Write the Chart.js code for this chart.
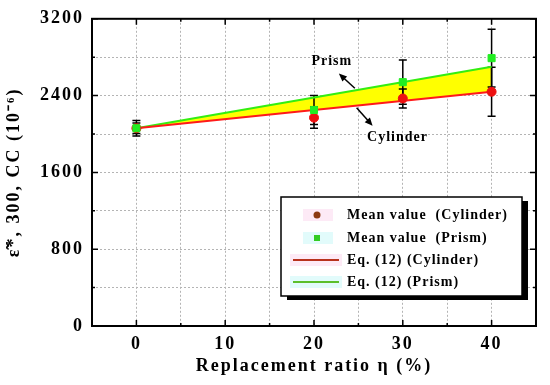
<!DOCTYPE html>
<html>
<head>
<meta charset="utf-8">
<script src="https://cdn.jsdelivr.net/npm/chart.js@4.4.1/dist/chart.umd.min.js"></script>
<style>
  html, body { margin: 0; padding: 0; background: #fff; }
  #wrap { width: 550px; height: 385px; }
</style>
</head>
<body>
<div id="wrap"><canvas id="strainChart" width="550" height="385"></canvas></div>
<script>
// values
const ratios = [0, 20, 30, 40];
const cylinderMean = [2060, 2170, 2370, 2440];
const cylinderErr = [80, 110, 100, 255];
const prismMean = [2060, 2250, 2540, 2790];
const prismErr = [55, 150, 230, 300];
const eqRatios = [0, 40];
const eqCylinder = [2060, 2440];
const eqPrism = [2060, 2700];
const xTicks = [0, 10, 20, 30, 40];
const yTicks = [0, 800, 1600, 2400, 3200];
const legendLabels = ["Mean value  (Cylinder)", "Mean value  (Prism)", "Eq. (12) (Cylinder)", "Eq. (12) (Prism)"];

const serif = "'Liberation Serif', 'Times New Roman', serif";
Chart.defaults.font.family = serif;
Chart.defaults.font.weight = "bold";
Chart.defaults.color = "#000";

const toPoints = (xs, ys) => xs.map((v, i) => ({ x: v, y: ys[i] }));

// the original figure uses widely spaced lettering
const spacing = {
  id: "spacing",
  beforeDraw(chart) { chart.ctx.letterSpacing = "2px"; }
};

// error bars, drawn over the yellow band but under lines and markers
const errorBars = {
  id: "errorBars",
  beforeDatasetsDraw(chart) {
    const { ctx, scales: { x, y } } = chart;
    ctx.save();
    ctx.strokeStyle = "#000";
    ctx.lineWidth = 1.5;
    const draw = (means, errs) => {
      ratios.forEach((r, i) => {
        const px = x.getPixelForValue(r);
        const top = y.getPixelForValue(means[i] + errs[i]);
        const bot = y.getPixelForValue(means[i] - errs[i]);
        ctx.beginPath();
        ctx.moveTo(px, top); ctx.lineTo(px, bot);
        ctx.moveTo(px - 4, top); ctx.lineTo(px + 4, top);
        ctx.moveTo(px - 4, bot); ctx.lineTo(px + 4, bot);
        ctx.stroke();
      });
    };
    draw(cylinderMean, cylinderErr);
    draw(prismMean, prismErr);
    ctx.restore();
  }
};

function arrow(ctx, x1, y1, x2, y2) {
  const a = Math.atan2(y2 - y1, x2 - x1);
  ctx.beginPath();
  ctx.moveTo(x1, y1);
  ctx.lineTo(x2 - 5 * Math.cos(a), y2 - 5 * Math.sin(a));
  ctx.stroke();
  ctx.beginPath();
  ctx.moveTo(x2, y2);
  ctx.lineTo(x2 - 8 * Math.cos(a) + 3.5 * Math.sin(a), y2 - 8 * Math.sin(a) - 3.5 * Math.cos(a));
  ctx.lineTo(x2 - 8 * Math.cos(a) - 3.5 * Math.sin(a), y2 - 8 * Math.sin(a) + 3.5 * Math.cos(a));
  ctx.closePath();
  ctx.fill();
}

// frame, inward ticks, annotations and the boxed legend
const decorations = {
  id: "decorations",
  afterDraw(chart) {
    const { ctx, chartArea: a, scales: { x, y } } = chart;
    ctx.save();

    // labels with arrows
    ctx.fillStyle = "#000";
    ctx.strokeStyle = "#000";
    ctx.lineWidth = 1.5;
    ctx.letterSpacing = "1px";
    ctx.font = "bold 14px " + serif;
    ctx.textAlign = "center";
    ctx.textBaseline = "middle";
    ctx.fillText("Prism", x.getPixelForValue(22), y.getPixelForValue(2760));
    arrow(ctx, x.getPixelForValue(24.6), y.getPixelForValue(2476), x.getPixelForValue(22.8), y.getPixelForValue(2629));
    ctx.fillText("Cylinder", x.getPixelForValue(29.4), y.getPixelForValue(1965));
    arrow(ctx, x.getPixelForValue(24.8), y.getPixelForValue(2273), x.getPixelForValue(26.6), y.getPixelForValue(2085));

    // legend box
    const lx = 281, ly = 197, lw = 241, lh = 99;
    ctx.fillStyle = "#000";
    ctx.fillRect(lx + 6, ly + 4, lw, lh);
    ctx.fillStyle = "#fff";
    ctx.fillRect(lx, ly, lw, lh);
    ctx.lineWidth = 1.5;
    ctx.strokeRect(lx, ly, lw, lh);
    const rows = [215, 238, 260, 282];
    ctx.fillStyle = "#fdeaf6"; ctx.fillRect(303, rows[0] - 6, 30, 12);
    ctx.fillStyle = "#e2fbfb"; ctx.fillRect(303, rows[1] - 6, 30, 12);
    ctx.fillStyle = "#fdeaf6"; ctx.fillRect(290, rows[2] - 6, 52, 12);
    ctx.fillStyle = "#e2fbfb"; ctx.fillRect(290, rows[3] - 6, 52, 12);
    ctx.fillStyle = "#8b3a12";
    ctx.beginPath(); ctx.arc(317, rows[0], 3.5, 0, Math.PI * 2); ctx.fill();
    ctx.fillStyle = "#33cc22";
    ctx.fillRect(314, rows[1] - 3, 6, 6);
    ctx.lineWidth = 2;
    ctx.strokeStyle = "#b8321c";
    ctx.beginPath(); ctx.moveTo(293, rows[2]); ctx.lineTo(339, rows[2]); ctx.stroke();
    ctx.strokeStyle = "#5cbf2a";
    ctx.beginPath(); ctx.moveTo(293, rows[3]); ctx.lineTo(339, rows[3]); ctx.stroke();
    ctx.fillStyle = "#000";
    ctx.textAlign = "left";
    ctx.font = "bold 14px " + serif;
    legendLabels.forEach((t, i) => ctx.fillText(t, 347, rows[i]));

    // frame
    ctx.strokeStyle = "#000";
    ctx.lineWidth = 2;
    ctx.strokeRect(a.left, a.top, a.right - a.left, a.bottom - a.top);

    // inward ticks
    ctx.lineWidth = 1.5;
    ctx.beginPath();
    x.ticks.forEach(t => {
      const px = x.getPixelForValue(t.value);
      const len = xTicks.includes(t.value) ? 6 : 3;
      ctx.moveTo(px, a.bottom); ctx.lineTo(px, a.bottom - len);
      ctx.moveTo(px, a.top); ctx.lineTo(px, a.top + len);
    });
    y.ticks.forEach(t => {
      const py = y.getPixelForValue(t.value);
      const len = yTicks.includes(t.value) ? 6 : 3;
      ctx.moveTo(a.left, py); ctx.lineTo(a.left + len, py);
      ctx.moveTo(a.right, py); ctx.lineTo(a.right - len, py);
    });
    ctx.stroke();
    ctx.restore();
  }
};

const grid = {
  color: "#b4b4b4",
  lineWidth: 1,
  drawTicks: false
};

new Chart(document.getElementById("strainChart"), {
  type: "scatter",
  data: {
    datasets: [
      {
        label: legendLabels[0],
        data: toPoints(ratios, cylinderMean),
        backgroundColor: "#ee1111",
        borderColor: "#ee1111",
        pointStyle: "circle",
        pointRadius: 4.5,
        order: 0.5
      },
      {
        label: legendLabels[1],
        data: toPoints(ratios, prismMean),
        backgroundColor: "#22ee22",
        borderColor: "#22ee22",
        pointStyle: "rect",
        pointRadius: 5,
        order: 0
      },
      {
        label: legendLabels[2],
        data: toPoints(eqRatios, eqCylinder),
        showLine: true,
        borderColor: "#ff1a1a",
        borderWidth: 2,
        pointRadius: 0,
        fill: false,
        order: 1
      },
      {
        label: legendLabels[3],
        data: toPoints(eqRatios, eqPrism),
        showLine: true,
        borderColor: "#33ee11",
        borderWidth: 2,
        pointRadius: 0,
        backgroundColor: "#ffff00",
        fill: "-1",
        order: 1
      }
    ]
  },
  options: {
    responsive: false,
    animation: false,
    devicePixelRatio: 1,
    layout: { padding: { top: 12, right: 14, left: 0, bottom: 0 } },
    plugins: {
      legend: { display: false },
      tooltip: { enabled: false },
      filler: { drawTime: "beforeDatasetsDraw" }
    },
    scales: {
      x: {
        type: "linear",
        min: -5,
        max: 45,
        afterFit: s => { s.height = 59; },
        grid: grid,
        border: { display: false, dash: [2, 2] },
        ticks: {
          stepSize: 5,
          padding: 8,
          font: { size: 18, weight: "bold" },
          callback: v => xTicks.includes(v) ? String(v) : ""
        },
        title: {
          display: true,
          text: "Replacement ratio η (%)",
          font: { size: 18, weight: "bold" },
          padding: { top: 0, bottom: 8 }
        }
      },
      y: {
        min: 0,
        max: 3200,
        afterFit: s => { s.width = 92; },
        grid: grid,
        border: { display: false, dash: [2, 2] },
        ticks: {
          stepSize: 400,
          padding: 8,
          font: { size: 18, weight: "bold" },
          callback: v => yTicks.includes(v) ? String(v) : ""
        },
        title: {
          display: true,
          text: "ε̃*, 300, CC (10⁻⁶)",
          font: { size: 18, weight: "bold" },
          padding: { top: 4, bottom: 0 }
        }
      }
    }
  },
  plugins: [spacing, errorBars, decorations]
});
</script>
</body>
</html>
